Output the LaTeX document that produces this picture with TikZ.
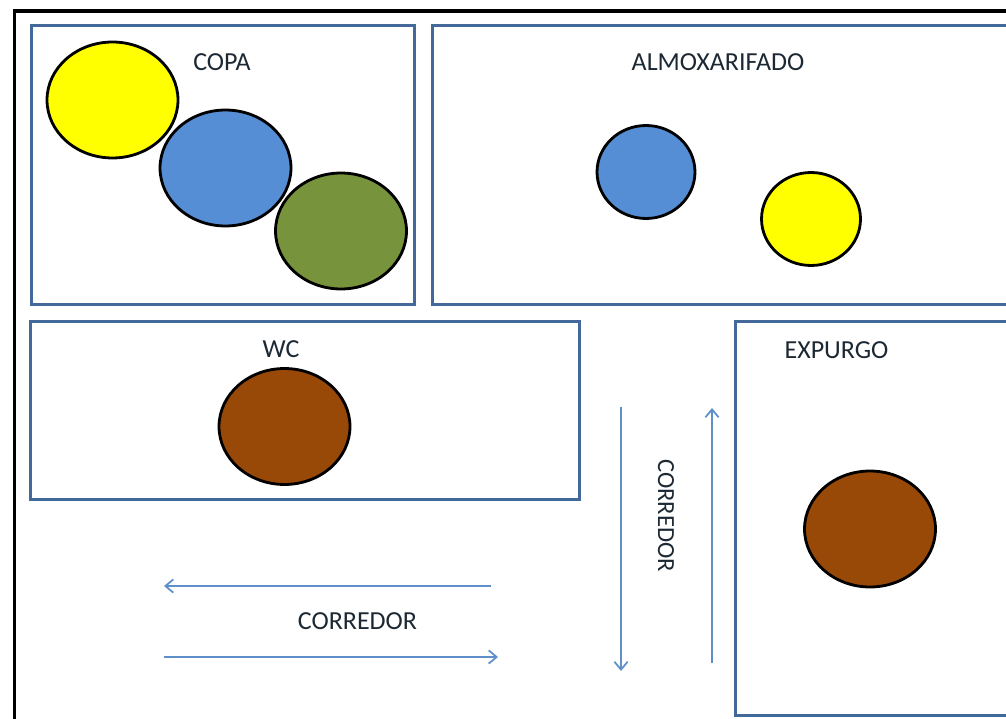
\documentclass[tikz,border=0pt]{standalone}
\usepackage{xcolor}
\usepackage{fontspec}
\setmainfont{Carlito}
\usetikzlibrary{arrows.meta,shapes,positioning}
\definecolor{roomline}{HTML}{43689A}
\definecolor{flowline}{HTML}{5F8FC9}
\definecolor{ballyellow}{HTML}{FFFF00}
\definecolor{ballblue}{HTML}{558ED5}
\definecolor{ballgreen}{HTML}{77933C}
\definecolor{ballbrown}{HTML}{984807}
\definecolor{labeltext}{HTML}{1C2833}

\begin{document}
\begin{tikzpicture}[x=0.02cm,y=-0.02cm,
                    room/.style={draw=roomline, line width=1.7pt, inner sep=0pt},
                    bigball/.style={ellipse, draw=black, line width=1.6pt, inner sep=0pt, minimum width=2.62cm, minimum height=2.32cm},
                    smallball/.style={ellipse, draw=black, line width=1.6pt, inner sep=0pt, minimum width=1.96cm, minimum height=1.86cm},
                    tag/.style={text=labeltext, font=\fontsize{14.8pt}{18pt}\selectfont},
                    flow/.style={draw=flowline, line width=1pt, -{Straight Barb[length=4.5pt,width=7.5pt]}}]
                    \useasboundingbox (0,0) rectangle (1006,719);
                    \node[draw, line width=2pt, inner sep=0pt, minimum width=21cm, minimum height=15cm, anchor=north west] (frame) at (12.5,9.5) {};

                    \node[room, minimum width=7.68cm, minimum height=5.58cm] (copa) at (223,165) {};
                    \node[room, minimum width=11.8cm, minimum height=5.58cm] (almox) at (727,165) {};
                    \node[room, minimum width=10.98cm, minimum height=3.56cm] (wc) at (305,410.5) {};
                    \node[room, minimum width=5.9cm, minimum height=7.88cm] (expurgo) at (883,518.5) {};

                    \node[tag] (copatag) at (222,62) {COPA};
                    \node[tag] (almoxtag) at (718,62) {ALMOXARIFADO};
                    \node[tag] (wctag) at (281,349.5) {WC};
                    \node[tag] (expurgotag) at (836.5,350) {EXPURGO};
                    \node[tag] (corrh) at (357.5,621) {CORREDOR};
                    \node[tag, rotate=-90, font=\fontsize{14pt}{18pt}\selectfont] (corrv) at (666,515.5) {CORREDOR};

                    \node[bigball, fill=ballyellow] (copa1) at (112.5,100) {};
                    \node[bigball, fill=ballblue] (copa2) at (225.5,168) {};
                    \node[bigball, fill=ballgreen] (copa3) at (341,231) {};
                    \node[smallball, fill=ballblue] (almox1) at (646,172) {};
                    \node[smallball, fill=ballyellow, minimum width=1.98cm] (almox2) at (811,219) {};
                    \node[bigball, fill=ballbrown] (wc1) at (284.5,426.5) {};
                    \node[bigball, fill=ballbrown] (expurgo1) at (870,529) {};

                    \coordinate (ha) at (491,586);
                    \coordinate (hb) at (164,586);
                    \coordinate (hc) at (164,657);
                    \coordinate (hd) at (498,657);
                    \coordinate (va) at (621,407);
                    \coordinate (vb) at (621,671);
                    \coordinate (vc) at (712,663);
                    \coordinate (vd) at (712,408);

                    \draw[flow] (ha) -- (hb);
                    \draw[flow] (hc) -- (hd);
                    \draw[flow] (va) -- (vb);
                    \draw[flow] (vc) -- (vd);
                \end{tikzpicture}
\end{document}
